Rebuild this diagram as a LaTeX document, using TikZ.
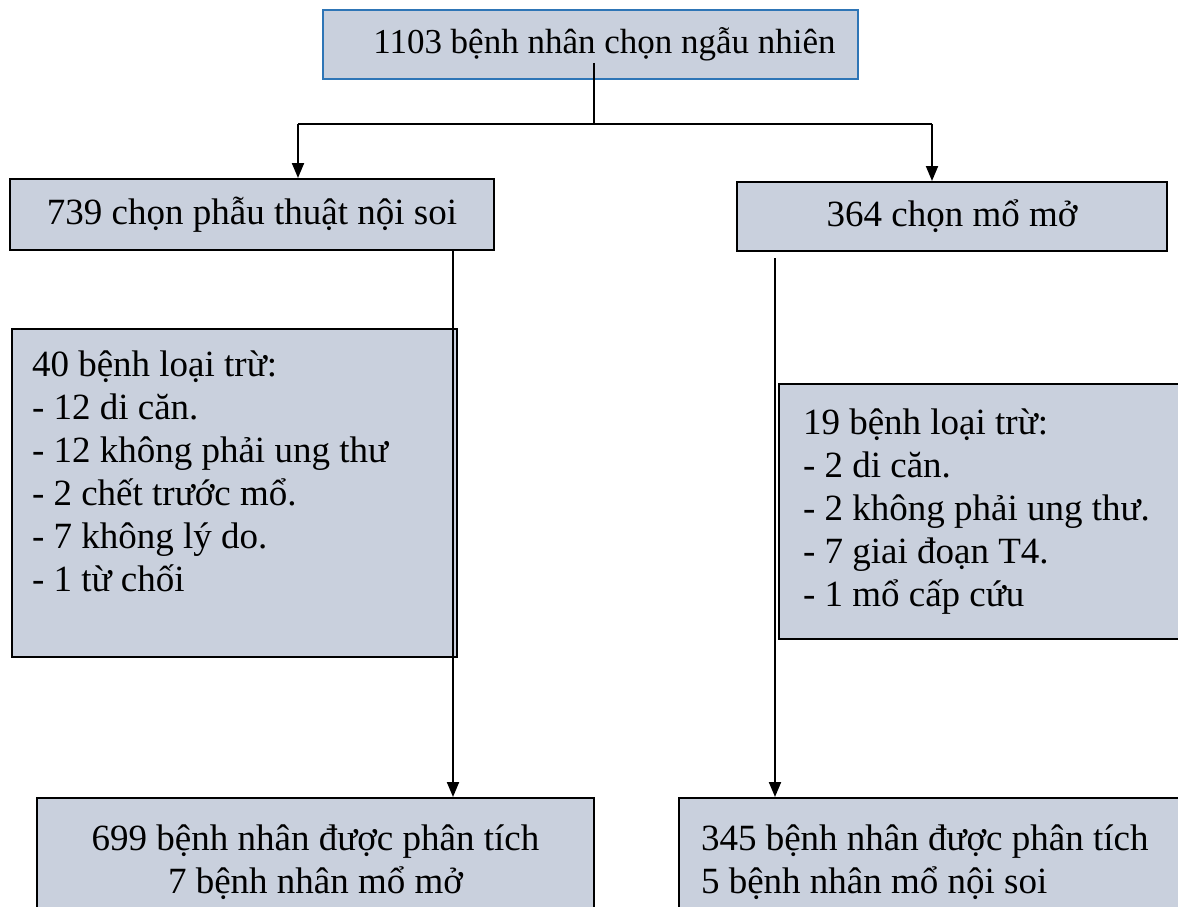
\documentclass[tikz,border=0pt]{standalone}
\usepackage{fontspec}
\setmainfont{Liberation Serif}
\definecolor{main}{RGB}{46,117,182}
\definecolor{boxc}{RGB}{201,208,221}
\usetikzlibrary{
	arrows.meta,
	positioning
}
\tikzset{
  % arrow
	cstra/.style      ={-{Triangle[length=15pt,width=12pt]}, line width=2pt}, % down arrow
	cstline/.style    ={line width=2pt},
  % node
	cstnode/.style    ={fill=boxc,draw=black,text=black,line width=2pt,inner sep=0pt},
	cstnode1/.style   ={cstnode,draw=main},
	cstlist/.style    ={cstnode,anchor=north west,align=flush left,inner xsep=20pt}
}

\begin{document}
\begin{tikzpicture}[x=1pt,y=-1pt,font=\fontsize{37}{43}\selectfont]
	\useasboundingbox (0,0) rectangle (1178,907);
	\clip (0,0) rectangle (1178,907);
	% boxes
	\node[cstnode1,minimum width=535pt,minimum height=69pt,font=\fontsize{35}{40}\selectfont] (rand) at (590.5,44.5) {\hspace*{28pt}1103 bệnh nhân chọn ngẫu nhiên};
	\node[cstnode,minimum width=484pt,minimum height=71pt] (lap) at (252,214.5) {739 chọn phẫu thuật nội soi};
	\node[cstnode,minimum width=430pt,minimum height=69pt] (open) at (952,216.5) {364 chọn mổ mở};
	\node[cstlist,text width=405pt,minimum height=328pt] (excl) at (11,328) {40 bệnh loại trừ:\\- 12 di căn.\\- 12 không phải ung thư\\- 2 chết trước mổ.\\- 7 không lý do.\\- 1 từ chối\\ \mbox{}};
	\node[cstlist,inner xsep=24pt,text width=369pt,minimum height=255pt] (excr) at (778,383) {19 bệnh loại trừ:\\- 2 di căn.\\- 2 không phải ung thư.\\- 7 giai đoạn T4.\\- 1 mổ cấp cứu};
	\node[cstnode,anchor=north west,minimum width=557pt,minimum height=128pt,align=center] (resl) at (36,797) {699 bệnh nhân được phân tích\\7 bệnh nhân mổ mở};
	\node[cstlist,inner xsep=22pt,text width=478pt,minimum height=128pt] (resr) at (678,797) {345 bệnh nhân được phân tích\\5 bệnh nhân mổ nội soi};
	% connectors
	\coordinate (split) at (594,124);
	\coordinate (bl) at (298,124);
	\coordinate (br) at (932,124);
	\coordinate (lx) at (453,0);
	\coordinate (rx) at (775,0);
	\draw[cstline] (split |- rand.south) ++(0,-17) -- (split);
	\draw[cstline] (bl) -- (br);
	\draw[cstra] (bl) -- (bl |- lap.north);
	\draw[cstra] (br) -- (br |- open.north);
	\draw[cstra] (lx |- lap.south) -- (lx |- resl.north);
	\draw[cstra] (rx |- open.south) ++(0,6) -- (rx |- resr.north);
\end{tikzpicture}
\end{document}
